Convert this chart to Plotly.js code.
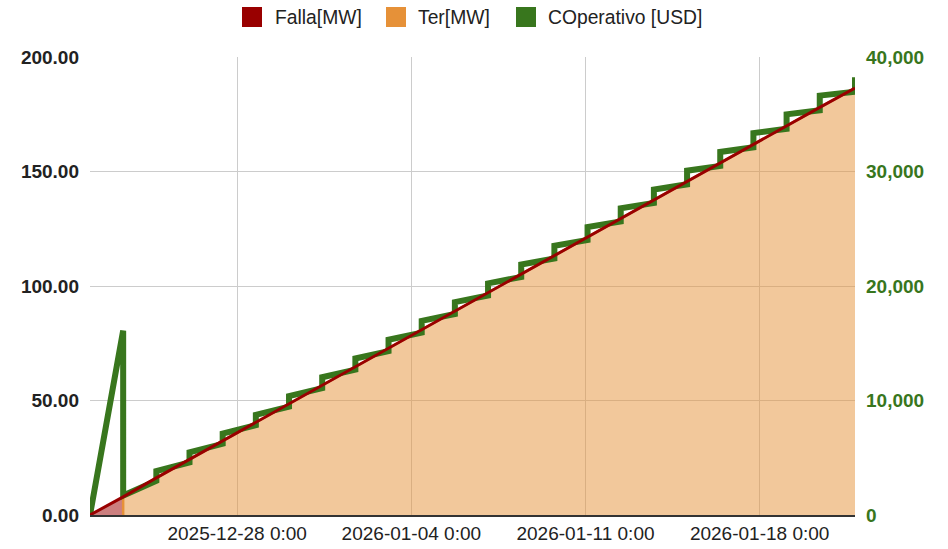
<!DOCTYPE html>
<html>
<head>
<meta charset="utf-8">
<script src="https://cdn.plot.ly/plotly-3.0.1.min.js"></script>
<style>html,body{margin:0;padding:0;background:#fff}#chart{width:948px;height:549px}</style>
</head>
<body>
<div id="chart"></div>
<script>
// Period boundaries (time axis)
const periodEnds = [
  '2025-12-22 02:00','2025-12-23 10:00','2025-12-24 18:00','2025-12-26 02:00',
  '2025-12-27 10:00','2025-12-28 18:00','2025-12-30 02:00','2025-12-31 10:00',
  '2026-01-01 18:00','2026-01-03 02:00','2026-01-04 10:00','2026-01-05 18:00',
  '2026-01-07 02:00','2026-01-08 10:00','2026-01-09 18:00','2026-01-11 02:00',
  '2026-01-12 10:00','2026-01-13 18:00','2026-01-15 02:00','2026-01-16 10:00',
  '2026-01-17 18:00','2026-01-19 02:00','2026-01-20 10:00','2026-01-21 20:00'
];
// Falla [MW] on periodEnds[0..1]
const fallaMW = [0, 7.9];
// Ter [MW] on periodEnds[1..23]
const terMW = [7.9, 16.2, 24.3, 32.4, 40.5, 48.5, 56.6, 64.7, 72.8, 80.9, 89.0, 97.1,
  105.2, 113.3, 121.4, 129.5, 137.6, 145.7, 153.8, 161.9, 170.0, 178.0, 186.4];
// COperativo [USD]: start value, then value just before and just after each boundary (periodEnds[1..23])
const copStart = 0;
const copBefore = [16100, 2990, 4600, 6220, 7840, 9460, 11080, 12690, 14310, 15930, 17550, 19170,
  20790, 22400, 24020, 25640, 27260, 28880, 30490, 32110, 33730, 35350, 36960];
const copAfter = [1700, 3840, 5470, 7110, 8750, 10390, 12030, 13670, 15310, 16950, 18590, 20230,
  21870, 23510, 25150, 26790, 28430, 30070, 31710, 33350, 34990, 36630, 38240];

const seriesNames = ['Falla[MW]', 'Ter[MW]', 'COperativo [USD]'];
const seriesColors = ['#990000', '#e69138', '#38761d'];
const yTicks = [0, 50, 100, 150, 200];
const y2Ticks = [0, 10000, 20000, 30000, 40000];

// build green step line
const gx = [periodEnds[0]], gy = [copStart];
for (let i = 0; i < copBefore.length; i++) {
  gx.push(periodEnds[i + 1], periodEnds[i + 1]);
  gy.push(copBefore[i], copAfter[i]);
}
const terX = [periodEnds[1]].concat(periodEnds.slice(1));
const terY = [0].concat(terMW);
const redX = periodEnds.slice();
const redY = [fallaMW[0]].concat(terMW);

const FONT = '"Liberation Sans", Arial, sans-serif';

const W = 948, H = 549, ML = 90, MR = 93, MT = 57, MB = 34;
const PW = W - ML - MR, PH = H - MT - MB;
const px2x = p => (p - ML) / PW;
const px2y = p => (H - MB - p) / PH;

const traces = [
  {x: periodEnds.slice(0, 2), y: fallaMW, type: 'scatter', mode: 'lines', fill: 'tozeroy',
   fillcolor: 'rgba(153,0,0,0.5)', line: {width: 0, color: seriesColors[0]}, name: seriesNames[0], showlegend: false, hoverinfo: 'skip', xaxis: 'x', yaxis: 'y'},
  {x: terX, y: terY, type: 'scatter', mode: 'lines', fill: 'tozeroy',
   fillcolor: 'rgba(230,145,56,0.5)', line: {width: 2.5, color: seriesColors[1]}, name: seriesNames[1], showlegend: false, hoverinfo: 'skip', xaxis: 'x', yaxis: 'y'},
  {x: gx, y: gy, type: 'scatter', mode: 'lines', line: {width: 6, color: seriesColors[2]},
   name: seriesNames[2], showlegend: false, xaxis: 'x', yaxis: 'y2'},
  {x: redX, y: redY, type: 'scatter', mode: 'lines', line: {width: 3, color: seriesColors[0]},
   name: seriesNames[0], showlegend: false, xaxis: 'x', yaxis: 'y3'}
];

// custom legend (square swatches + labels)
const legSquareLeft = [242, 386, 516];
const legTextLeft = [274, 417, 547];
const shapes = [], annotations = [];
seriesNames.forEach((n, i) => {
  shapes.push({type: 'rect', xref: 'paper', yref: 'paper',
    x0: px2x(legSquareLeft[i]), x1: px2x(legSquareLeft[i] + 20),
    y0: px2y(27), y1: px2y(7), fillcolor: seriesColors[i], line: {width: 0}});
  annotations.push({xref: 'paper', yref: 'paper', x: px2x(legTextLeft[i]), y: px2y(17),
    xanchor: 'left', yanchor: 'middle', showarrow: false, text: n, borderpad: 0,
    font: {family: FONT, size: 19.3, color: '#222'}});
});

const layout = {
  width: W, height: H,
  margin: {l: ML, r: MR, t: MT, b: MB, autoexpand: false},
  paper_bgcolor: '#fff', plot_bgcolor: '#fff',
  font: {family: FONT, size: 19, color: '#222'},
  showlegend: false,
  shapes: shapes, annotations: annotations,
  xaxis: {
    type: 'date',
    range: [periodEnds[0], periodEnds[periodEnds.length - 1]],
    tick0: '2025-12-28', dtick: 7 * 24 * 3600 * 1000,
    tickformat: '%Y-%m-%d %-H:%M',
    showgrid: true, gridcolor: '#cccccc', gridwidth: 1,
    showline: true, linecolor: '#333', linewidth: 2,
    ticks: '', zeroline: false,
    tickfont: {family: FONT, size: 19, color: '#222'}
  },
  yaxis: {
    range: [0, 200], tickvals: yTicks, tickformat: '.2f',
    showgrid: true, gridcolor: '#cccccc', gridwidth: 1, zeroline: false,
    ticks: '', ticklabelstandoff: 10,
    tickfont: {family: FONT, size: 19, color: '#222', weight: 'bold'}
  },
  yaxis2: {
    range: [0, 40000], tickvals: y2Ticks, tickformat: ',d',
    overlaying: 'y', side: 'right', anchor: 'x',
    showgrid: false, zeroline: false, ticks: '', ticklabelstandoff: 10,
    tickfont: {family: FONT, size: 19, color: '#38761d', weight: 'bold'}
  },
  yaxis3: {range: [0, 200], overlaying: 'y', anchor: 'x', visible: false}
};

Plotly.newPlot('chart', traces, layout, {staticPlot: true, displayModeBar: false});
</script>
</body>
</html>
